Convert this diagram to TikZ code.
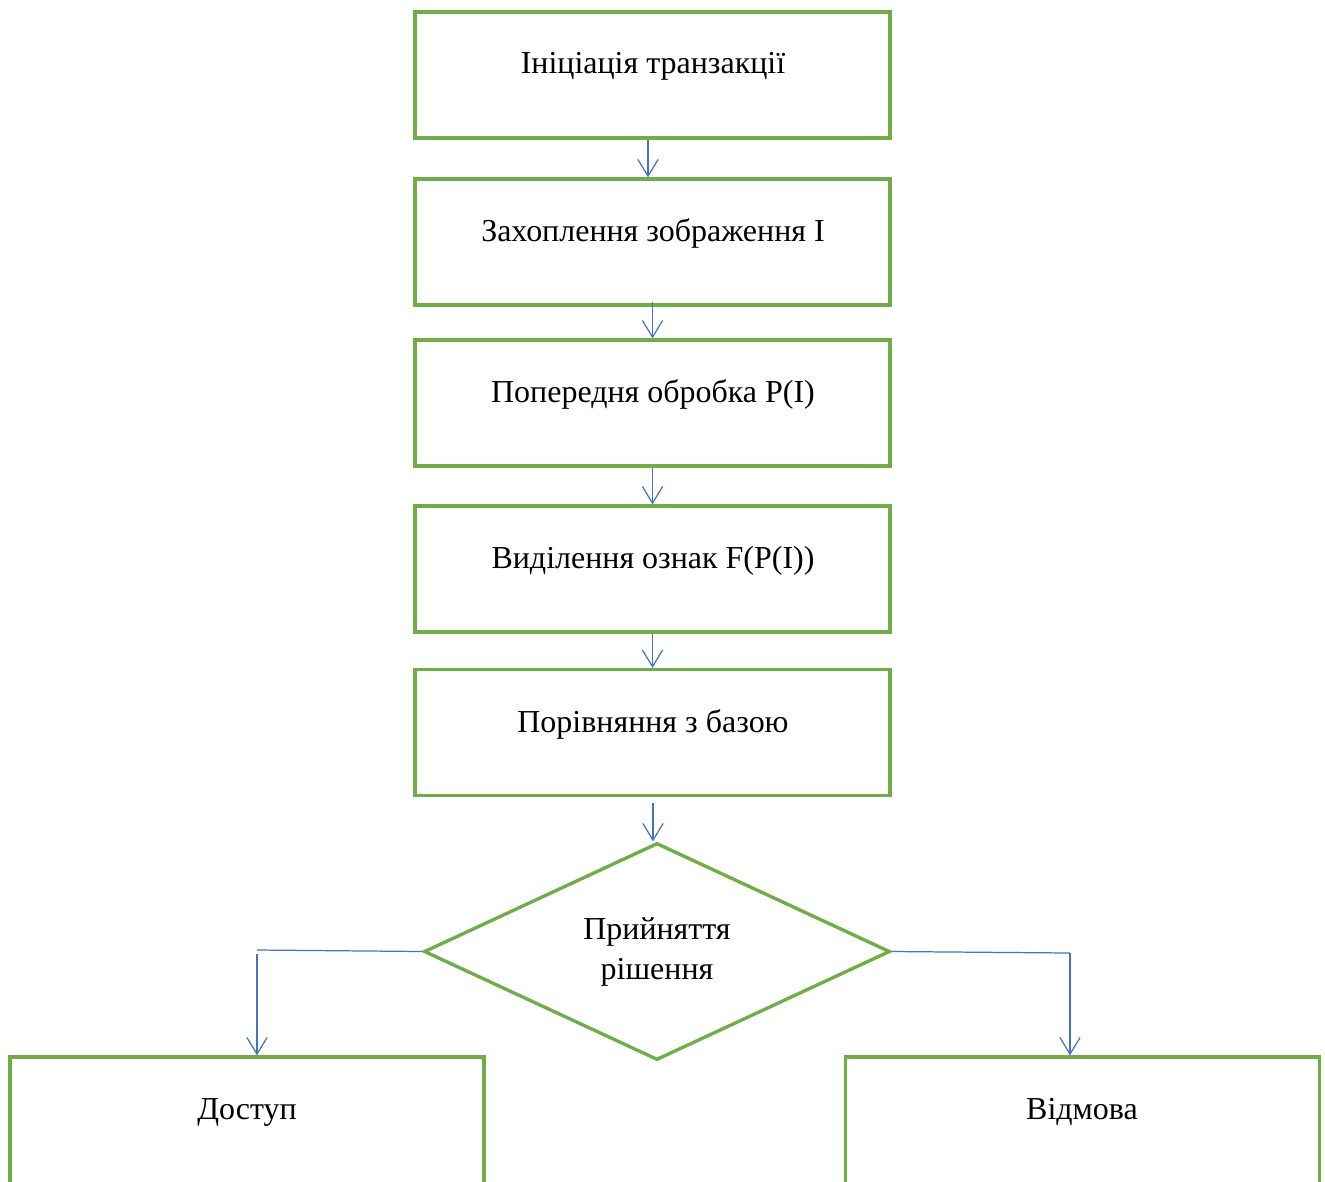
\documentclass[tikz,border=0pt]{standalone}
\usepackage{fontspec}
\setmainfont{Liberation Serif}
\usetikzlibrary{arrows.meta,shapes.geometric}
\definecolor{grn}{HTML}{70AD47}
\definecolor{blu}{HTML}{4472C4}
\begin{document}
\begin{tikzpicture}[x=0.02cm,y=-0.02cm,
  box/.style={draw=grn,line width=1.9pt,minimum width=475*0.02cm,minimum height=126*0.02cm,inner sep=0pt},
  lowbox/.style={draw=grn,line width=1.9pt,minimum width=474*0.02cm,minimum height=300*0.02cm,inner sep=0pt},
  dia/.style={draw=grn,line width=1.9pt,diamond,minimum width=466*0.02cm,minimum height=217*0.02cm,inner sep=0pt,aspect=2.15,align=center,font=\fontsize{18.2}{22.7}\selectfont},
  txt/.style={font=\fontsize{18.2}{22.7}\selectfont,inner sep=0pt},
  arr/.style={draw=blu,line width=0.7pt,-{Straight Barb[length=9.5pt,width=11.5pt]}},
  conn/.style={draw=blu,line width=0.7pt}]
\useasboundingbox (0,0) rectangle (1325,1181);
\clip (0,0) rectangle (1325,1181);
\fill[white] (0,0) rectangle (1325,1181);

\node[box] (b1) at (652.5,75) {};
\node[box] (b2) at (652.5,242) {};
\node[box] (b3) at (652.5,403) {};
\node[box] (b4) at (652.5,569) {};
\node[box] (b5) at (652.5,732.5) {};
\node[txt] (t1) at (653,66) {Ініціація транзакції};
\node[txt] (t2) at (653,233) {Захоплення зображення I};
\node[txt] (t3) at (653,394) {Попередня обробка P(I)};
\node[txt] (t4) at (653,561) {Виділення ознак F(P(I))};
\node[txt] (t5) at (653,724) {Порівняння з базою};

\node[dia] (d) at (657,951.5) {Прийняття\\рішення};

\node[lowbox] (bl) at (247,1207) {};
\node[lowbox] (br) at (1082.5,1207) {};
\node[txt] (tl) at (247,1112) {Доступ};
\node[txt] (tr) at (1082,1112) {Відмова};

\draw[arr] ([xshift=-0.09cm]b1.south) -- ([xshift=-0.09cm]b2.north);
\draw[arr] ([yshift=0.1cm]b2.south) -- (b3.north);
\draw[arr] (b3.south) -- (b4.north);
\draw[arr] (b4.south) -- (b5.north);
\coordinate (a5s) at (653,803);
\draw[arr] (a5s) -- (a5s |- d.north);

\coordinate (cl) at (257,950);
\coordinate (cr) at (1070,953);
\draw[conn] (d.west) -- (cl);
\draw[arr] ([yshift=-0.08cm]cl) -- (cl |- bl.north);
\draw[conn] (d.east) -- (cr);
\draw[arr] (cr) -- (cr |- br.north);
\end{tikzpicture}
\end{document}
